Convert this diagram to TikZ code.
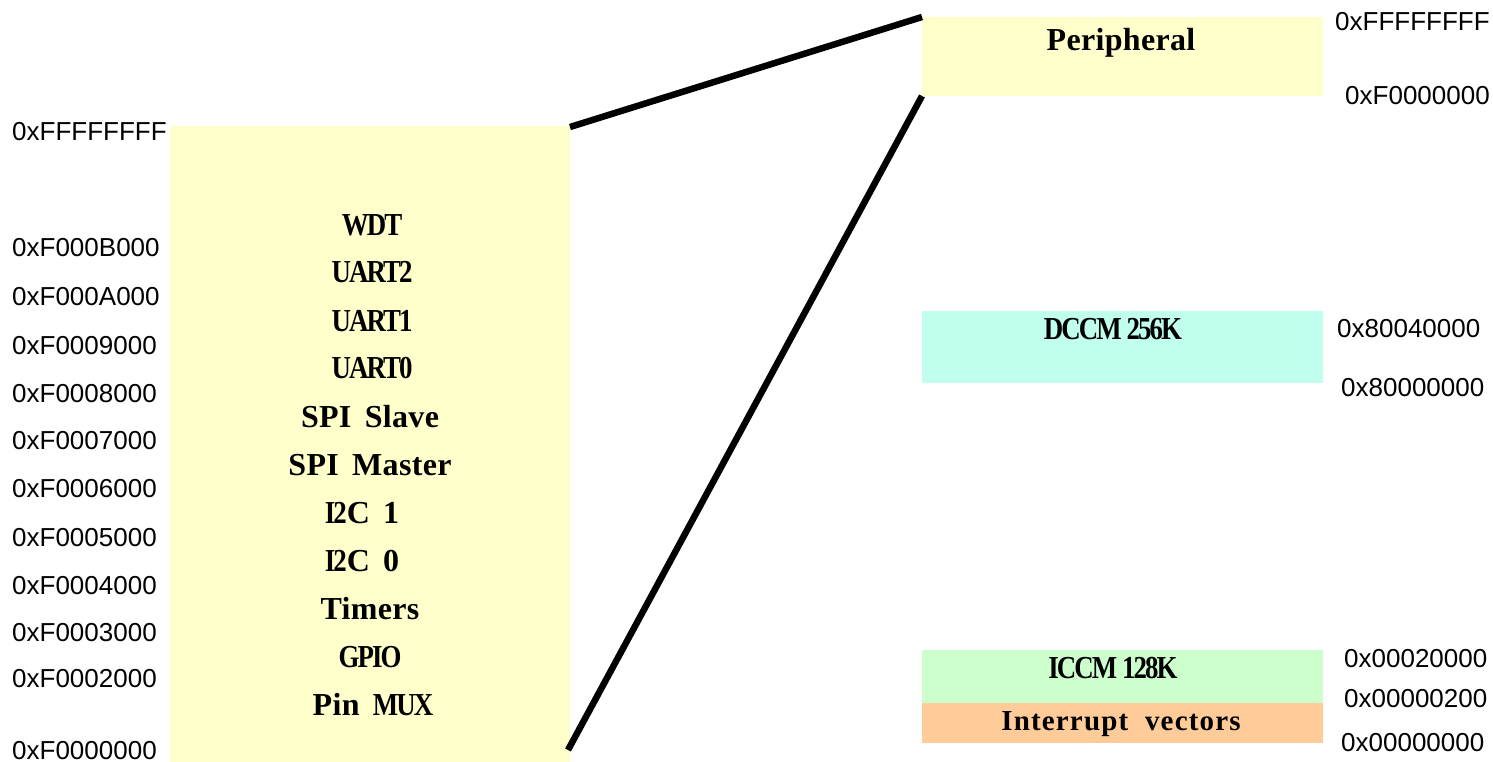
\documentclass[tikz,border=0pt]{standalone}
\usepackage{fontspec}
\setmainfont{Liberation Serif}
\newfontfamily\addrfont{Liberation Sans}
\newfontfamily\blkspaced{Liberation Serif}[LetterSpace=1,WordSpace=1.6]
\newfontfamily\blkwide{Liberation Serif}[LetterSpace=4,WordSpace=2]
\newfontfamily\blktight{Liberation Serif}[FakeStretch=0.84,LetterSpace=-6]
\definecolor{periyellow}{HTML}{FFFFCC}
\definecolor{dccmcol}{HTML}{C0FFEE}
\definecolor{iccmcol}{HTML}{CCFFCC}
\definecolor{vectcol}{HTML}{FFCC99}
\tikzset{
  region/.style={draw=none, inner sep=0pt, outer sep=0pt, anchor=north west},
  addr/.style={font=\addrfont\fontsize{26}{26}\selectfont, inner sep=0pt, anchor=base west},
  lbl/.style={font=\blkspaced\bfseries\fontsize{32}{32}\selectfont, inner sep=0pt, anchor=base},
  widelbl/.style={font=\blkwide\bfseries\fontsize{29}{29}\selectfont, inner sep=0pt, anchor=base},
  tightlbl/.style={font=\blktight\bfseries\fontsize{32}{32}\selectfont, inner sep=0pt, anchor=base},
  conn/.style={line width=6.5pt},
}
\begin{document}
\begin{tikzpicture}[x=1pt,y=-1pt]
\useasboundingbox (0,0) rectangle (1493,762);
% left detailed peripheral block
\node[region, fill=periyellow, minimum width=400pt, minimum height=636pt] (detail) at (170,126) {};
% right map
\node[region, fill=periyellow, minimum width=401pt, minimum height=79pt] (per) at (922,17) {};
\node[region, fill=dccmcol, minimum width=401pt, minimum height=72pt] (dccm) at (922,311) {};
\node[region, fill=iccmcol, minimum width=401pt, minimum height=53pt] (iccm) at (922,650) {};
\node[region, fill=vectcol, minimum width=401pt, minimum height=40pt] (vect) at (922,703) {};

% labels inside left block
\node[tightlbl] (tWDT) at (372,235) {WDT};
\node[tightlbl] (tU2) at (372,282) {UART2};
\node[tightlbl] (tU1) at (372,331) {UART1};
\node[tightlbl] (tU0) at (372,378) {UART0};
\node[lbl] (tSS) at (370,427) {SPI Slave};
\node[lbl] (tSM) at (370,475) {SPI Master};
\node[lbl] (tI1) at (362,523) {{\blktight I2}C 1};
\node[lbl] (tI0) at (362,571) {{\blktight I2}C 0};
\node[lbl] (tTim) at (370,619) {Timers};
\node[tightlbl] (tGPIO) at (370,667) {GPIO};
\node[lbl] (tPin) at (373,715) {Pin {\blktight MUX}};

% labels inside right blocks
\node[lbl] (tPer) at (1121,51) {Peripheral};
\node[tightlbl] (tD) at (1113,339) {DCCM 256K};
\node[tightlbl] (tI) at (1113,678) {ICCM 128K};
\node[widelbl] (tV) at (1121,730) {Interrupt vectors};

% left addresses
\node[addr] (a0) at (12,141) {0xFFFFFFFF};
\node[addr] (a1) at (12,256) {0xF000B000};
\node[addr] (a2) at (12,305) {0xF000A000};
\node[addr] (a3) at (12,354) {0xF0009000};
\node[addr] (a4) at (12,402) {0xF0008000};
\node[addr] (a5) at (12,449) {0xF0007000};
\node[addr] (a6) at (12,497) {0xF0006000};
\node[addr] (a7) at (12,546) {0xF0005000};
\node[addr] (a8) at (12,594) {0xF0004000};
\node[addr] (a9) at (12,641) {0xF0003000};
\node[addr] (a10) at (12,687) {0xF0002000};
\node[addr] (a11) at (12,759) {0xF0000000};

% right addresses
\node[addr] (r0) at (1335,31) {0xFFFFFFFF};
\node[addr] (r1) at (1345,105) {0xF0000000};
\node[addr] (r2) at (1337,337) {0x80040000};
\node[addr] (r3) at (1341,396) {0x80000000};
\node[addr] (r4) at (1344,667) {0x00020000};
\node[addr] (r5) at (1344,707) {0x00000200};
\node[addr] (r6) at (1341,751) {0x00000000};

% connectors
\coordinate (lowstart) at (568,750);
\coordinate (topstart) at (570,127);
\draw[conn] (topstart) -- (per.north west);
\draw[conn] (lowstart) -- (per.south west);
\end{tikzpicture}
\end{document}
